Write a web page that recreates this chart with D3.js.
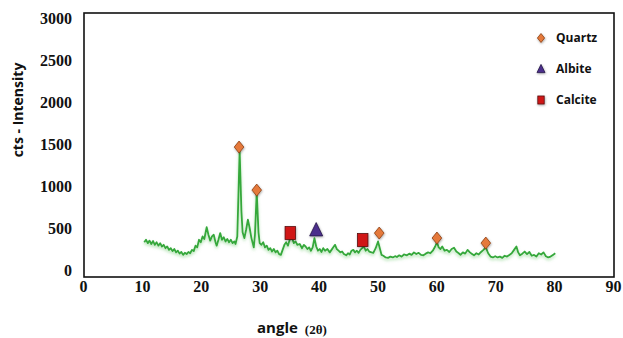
<!DOCTYPE html>
<html>
<head>
<meta charset="utf-8">
<script src="https://cdn.jsdelivr.net/npm/d3@7"></script>
<style>
  body { margin: 0; background: #fff; }
  svg { display: block; }
</style>
</head>
<body>
<script>
// XRD trace (2theta, counts)
const angle = [10.4,10.7,11.0,11.3,11.6,11.9,12.2,12.5,12.8,13.1,13.4,13.7,14.0,14.3,14.6,14.9,15.2,15.5,15.8,16.1,16.4,16.7,17.0,17.3,17.6,17.9,18.2,18.5,18.8,19.1,19.4,19.7,20.0,20.3,20.6,21.0,21.3,21.6,21.9,22.2,22.5,22.7,23.0,23.3,23.6,23.9,24.2,24.5,24.8,25.1,25.4,25.7,25.9,26.2,26.6,26.9,27.1,27.4,27.7,28.0,28.3,28.6,29.0,29.2,29.5,29.8,30.0,30.3,30.6,30.9,31.2,31.5,31.8,32.1,32.4,32.7,33.0,33.3,33.6,33.9,34.2,34.5,34.8,35.1,35.5,35.8,36.1,36.4,36.8,37.2,37.5,37.8,38.1,38.4,38.7,39.0,39.3,39.6,39.9,40.2,40.5,40.8,41.1,41.5,41.9,42.2,42.5,42.8,43.1,43.4,43.7,44.0,44.3,44.7,45.0,45.3,45.6,45.9,46.2,46.5,46.8,47.1,47.4,47.7,48.0,48.3,48.6,49.0,49.3,49.7,50.1,50.4,50.7,51.0,51.4,51.8,52.2,52.6,53.0,53.3,53.7,54.1,54.5,55.0,55.4,55.8,56.2,56.6,57.0,57.4,57.8,58.2,58.6,59.0,59.4,59.8,60.1,60.4,60.7,61.0,61.4,61.8,62.2,62.6,63.0,63.4,63.8,64.1,64.5,64.9,65.3,65.7,66.0,66.4,66.8,67.2,67.6,68.0,68.4,68.8,69.2,69.6,70.0,70.4,70.8,71.2,71.6,72.0,72.4,72.8,73.2,73.6,73.9,74.2,74.6,75.0,75.4,75.8,76.2,76.6,77.0,77.4,77.8,78.2,78.6,79.0,79.4,79.8,80.2]
const cts = [330,360,320,350,310,345,300,330,290,320,280,300,260,280,240,260,225,250,210,230,195,215,180,205,190,215,200,240,225,290,270,360,330,400,370,510,420,350,400,420,330,290,360,440,360,390,340,370,330,360,320,340,310,400,1420,700,450,380,480,600,500,380,270,420,930,450,320,300,330,270,290,240,260,220,250,210,230,190,180,240,300,330,290,360,380,320,340,300,310,260,300,280,250,270,230,270,380,280,230,250,215,260,230,250,210,240,270,300,250,230,210,220,190,175,200,185,230,240,210,230,205,240,260,280,230,250,220,210,205,260,340,260,180,170,150,145,160,150,165,155,175,160,185,175,195,180,210,190,205,180,175,195,210,200,230,280,330,270,250,280,230,240,215,250,265,220,200,180,210,195,240,210,195,175,200,185,215,240,270,200,160,150,165,150,160,145,170,160,180,200,240,280,210,175,195,220,190,215,170,180,160,200,185,210,165,150,160,180,200]

// phase markers (position of the symbol centre)
const quartz = [[26.5,1464],[29.5,952],[50.3,440],[60.1,381],[68.4,321]]
const albite = [[39.6,476]]
const calcite = [[35.2,440],[47.5,357]]

const xTicks = [0,10,20,30,40,50,60,70,80,90]
const yTicks = [0,500,1000,1500,2000,2500,3000]
const legendNames = ['Quartz','Albite','Calcite']

const W = 623, H = 338
const svg = d3.select('body').append('svg').attr('width', W).attr('height', H)

const x = d3.scaleLinear().domain([0, 90]).range([83, 613])
const y = d3.scaleLinear().domain([-83, 3060]).range([277, 13])

// soft green shadow under the trace
const defs = svg.append('defs')
const f = defs.append('filter').attr('id', 'glow').attr('x', '-5%').attr('y', '-20%').attr('width', '110%').attr('height', '160%')
f.append('feDropShadow').attr('dx', 0).attr('dy', 2).attr('stdDeviation', 1.5)
  .attr('flood-color', '#7ccf7c').attr('flood-opacity', 0.6)
const ms = defs.append('filter').attr('id', 'mshadow').attr('x', '-50%').attr('y', '-50%').attr('width', '200%').attr('height', '200%')
ms.append('feDropShadow').attr('dx', 0.5).attr('dy', 1).attr('stdDeviation', 0.8)
  .attr('flood-color', '#000').attr('flood-opacity', 0.35)

// frame
svg.append('rect')
  .attr('x', 84).attr('y', 13).attr('width', 530).attr('height', 264)
  .attr('fill', 'none').attr('stroke', '#111').attr('stroke-width', 1.6)

// axes, labels only
const gx = svg.append('g').attr('transform', 'translate(0,281)')
  .call(d3.axisBottom(x).tickValues(xTicks).tickSize(0).tickPadding(0).tickFormat(d3.format('d')))
gx.select('.domain').remove()
gx.selectAll('text').attr('dy', '0.71em')

const gy = svg.append('g').attr('transform', 'translate(72,0)')
  .call(d3.axisLeft(y).tickValues(yTicks).tickSize(0).tickPadding(0).tickFormat(d3.format('d')))
gy.select('.domain').remove()

svg.selectAll('.tick text')
  .attr('font-family', '"Liberation Serif", "Times New Roman", serif')
  .attr('font-weight', 'bold').attr('font-size', 16).attr('fill', '#111')

// axis titles
svg.append('text')
  .attr('transform', 'translate(23,110) rotate(-90)')
  .attr('text-anchor', 'middle')
  .attr('font-family', '"Open Sans", "Liberation Sans", sans-serif')
  .attr('font-weight', 'bold').attr('font-size', 14).attr('fill', '#111')
  .text('cts - Intensity')

const xt = svg.append('text')
  .attr('x', 257).attr('y', 333)
  .attr('font-family', '"Open Sans", "Liberation Sans", sans-serif')
  .attr('font-weight', 'bold').attr('font-size', 15).attr('fill', '#111')
xt.append('tspan').text('angle')
xt.append('tspan').attr('dx', 7)
  .attr('font-family', '"Liberation Serif", serif').attr('font-size', 13).attr('dy', 1)
  .text('(2θ)')

// trace
const line = d3.line().x((d) => x(d[0])).y((d) => y(d[1]))
svg.append('path')
  .datum(angle.map((a, i) => [a, cts[i]]))
  .attr('d', line)
  .attr('fill', 'none').attr('stroke', '#34a83a').attr('stroke-width', 1.8)
  .attr('stroke-linejoin', 'round')
  .attr('filter', 'url(#glow)')

// marker shapes
const diamond = (g, s) => g.append('path')
  .attr('d', `M0,${-s}L${s*0.8},0L0,${s}L${-s*0.8},0Z`)
  .attr('fill', '#e5793a').attr('stroke', '#8a3d12').attr('stroke-width', 0.8)
const triangle = (g, s) => g.append('path')
  .attr('d', `M0,${-s*1.15}L${s},${s*0.9}L${-s},${s*0.9}Z`)
  .attr('fill', '#4b2e8c').attr('stroke', '#241446').attr('stroke-width', 0.8)
const square = (g, s) => g.append('rect')
  .attr('x', -s*0.8).attr('y', -s).attr('width', s*1.6).attr('height', s*2)
  .attr('fill', '#d01818').attr('stroke', '#5a0a0a').attr('stroke-width', 0.8)

const shapes = [diamond, triangle, square]
const sets = [quartz, albite, calcite]
const sizes = [6, 6.5, 6.5]

sets.forEach((set, k) => {
  svg.selectAll(null).data(set).join('g')
    .attr('transform', (d) => `translate(${x(d[0])},${y(d[1])})`)
    .attr('filter', 'url(#mshadow)')
    .each(function () { shapes[k](d3.select(this), sizes[k]) })
})

// legend
const lg = svg.append('g').attr('transform', 'translate(541,38)')
legendNames.forEach((name, i) => {
  const row = lg.append('g').attr('transform', `translate(0,${i * 31})`)
  const m = row.append('g').attr('filter', 'url(#mshadow)')
  shapes[i](m, [4.5, 4, 4][i])
  row.append('text').attr('x', 15).attr('dy', '0.35em')
    .attr('font-family', '"Open Sans", "Liberation Sans", sans-serif')
    .attr('font-weight', 'bold').attr('font-size', 12).attr('fill', '#111')
    .text(name)
})
</script>
</body>
</html>
